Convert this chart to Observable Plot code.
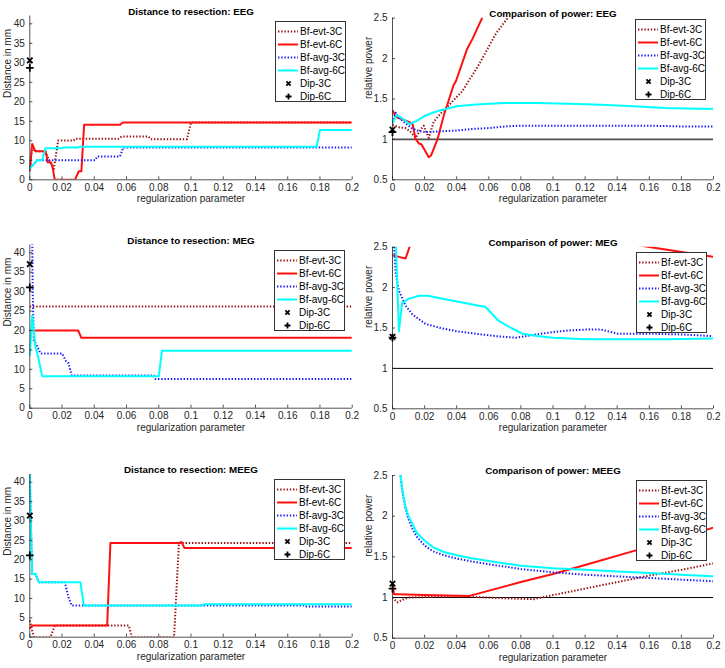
<!DOCTYPE html>
<html><head><meta charset="utf-8">
<script src="https://cdn.jsdelivr.net/npm/d3@7"></script>
<script src="https://cdn.jsdelivr.net/npm/@observablehq/plot@0.6"></script>
<style>
body{margin:0;background:#fff;}
#chart{position:relative;width:725px;height:668px;background:#fff;font-family:"Liberation Sans",Arial,Helvetica,sans-serif;overflow:hidden;}
.panel{position:absolute;}
.legend{position:absolute;background:#fff;border:1px solid #333;box-sizing:border-box;font-size:10px;color:#000;}
.legend .row{position:absolute;left:0;height:13px;width:100%;}
.legend .row svg{position:absolute;left:0;top:0;}
.legend .row span{position:absolute;left:24px;top:0;line-height:13px;white-space:nowrap;}
</style></head><body><div id="chart"></div>
<script>
// ---------- tick values and labels ----------
const X_TICKS = [0,0.02,0.04,0.06,0.08,0.1,0.12,0.14,0.16,0.18,0.2];
const X_TICK_LABELS = ["0","0.02","0.04","0.06","0.08","0.1","0.12","0.14","0.16","0.18","0.2"];
const DIST_TICKS = [0,5,10,15,20,25,30,35,40];
const DIST_TICK_LABELS = ["0","5","10","15","20","25","30","35","40"];
const POW_TICKS = [0.5,1,1.5,2,2.5];
const POW_TICK_LABELS = ["0.5","1","1.5","2","2.5"];
const DIST_DOMAIN = [0,42];
const POW_DOMAIN = [0.5,2.5];
const REF_POWER = [1];
const X_LABEL = "regularization parameter";
const SERIES = ["Bf-evt-3C","Bf-evt-6C","Bf-avg-3C","Bf-avg-6C"];
const DIPS = ["Dip-3C","Dip-6C"];
const TITLES = ["Distance to resection: EEG","Comparison of power: EEG","Distance to resection: MEG","Comparison of power: MEG","Distance to resection: MEEG","Comparison of power: MEEG"];
const Y_LABELS = ["Distance in mm","relative power"];

// ---------- EEG distance ----------
const eegDistEvt3C = [[0,2.5],[0.0015,8.8],[0.003,7.3],[0.0097,7.3],[0.012,5],[0.0149,2.8],[0.0176,10.1],[0.0273,10.1],[0.028,10.5],[0.055,10.5],[0.057,11.1],[0.0737,11.1],[0.075,10.4],[0.0975,10.4],[0.1,14.7],[0.2,14.7]];
const eegDistEvt6C = [[0,2.2],[0.0015,9.2],[0.0035,7.3],[0.0097,7.3],[0.0105,6],[0.011,4.5],[0.013,4.5],[0.014,3.5],[0.0155,0],[0.028,0],[0.0304,2.2],[0.032,2.2],[0.0337,14.1],[0.056,14.1],[0.0577,14.7],[0.2,14.7]];
const eegDistAvg3C = [[0,3],[0.0045,5],[0.0405,5],[0.042,6],[0.056,6],[0.058,8.3],[0.2,8.3]];
const eegDistAvg6C = [[0,2.8],[0.0045,5],[0.0077,5],[0.0097,8.1],[0.02,8.1],[0.021,8.3],[0.03,8.3],[0.031,8.5],[0.178,8.5],[0.18,12.8],[0.2,12.8]];
const eegDistDip3C = [[0,30.6]];
const eegDistDip6C = [[0,28.7]];

// ---------- EEG power ----------
const eegPowEvt3C = [[0,1.18],[0.004,1.15],[0.008,1.14],[0.011,1.1],[0.0145,1.02],[0.0175,1.12],[0.0195,1.17],[0.0226,1.02],[0.0257,1.22],[0.03,1.32],[0.034,1.4],[0.0436,1.6],[0.054,1.93],[0.0644,2.31],[0.0717,2.5],[0.076,2.6]];
const eegPowEvt6C = [[0,1.36],[0.002,1.28],[0.006,1.25],[0.011,1.21],[0.0125,1.19],[0.0143,1.01],[0.0164,0.95],[0.018,0.94],[0.0226,0.78],[0.024,0.8],[0.028,1.0],[0.032,1.3],[0.034,1.42],[0.038,1.67],[0.0395,1.72],[0.0465,2.12],[0.05,2.25],[0.056,2.51],[0.06,2.7]];
const eegPowAvg3C = [[0,1.21],[0.002,1.33],[0.004,1.27],[0.008,1.2],[0.012,1.14],[0.0153,1.11],[0.02,1.09],[0.03,1.1],[0.04,1.11],[0.05,1.13],[0.06,1.14],[0.07,1.16],[0.08,1.17],[0.1,1.17],[0.12,1.17],[0.14,1.17],[0.16,1.17],[0.18,1.16],[0.2,1.16]];
const eegPowAvg6C = [[0,1.2],[0.0025,1.3],[0.006,1.26],[0.0106,1.19],[0.015,1.23],[0.02,1.29],[0.025,1.33],[0.03,1.36],[0.034,1.38],[0.04,1.41],[0.05,1.43],[0.06,1.44],[0.07,1.45],[0.09,1.45],[0.11,1.44],[0.13,1.43],[0.15,1.41],[0.17,1.39],[0.19,1.38],[0.2,1.38]];
const eegPowDip3C = [[0,1.12]];
const eegPowDip6C = [[0,1.09]];

// ---------- MEG distance ----------
const megDistEvt3C = [[0,26.2],[0.2,26.2]];
const megDistEvt6C = [[0,20],[0.03,20],[0.032,18.1],[0.2,18.1]];
const megDistAvg3C = [[0,60],[0.0012,60],[0.0018,30],[0.0025,17.4],[0.004,16.5],[0.0066,14.1],[0.02,14.1],[0.0225,12.1],[0.024,11.6],[0.026,8.4],[0.077,8.4],[0.078,7.5],[0.2,7.5]];
const megDistAvg6C = [[0,13.5],[0.0015,23.8],[0.0035,15.7],[0.005,13.5],[0.0077,8.2],[0.08,8.2],[0.082,14.8],[0.2,14.8]];
const megDistDip3C = [[0,37.1]];
const megDistDip6C = [[0,31.1]];

// ---------- MEG power ----------
const megPowEvt3C = [[0,3.2],[0.1,3.5],[0.2,3.3]];
const megPowEvt6C = [[0,2.4],[0.004,2.38],[0.0081,2.36],[0.0106,2.5],[0.013,2.7],[0.08,3.2],[0.12,2.63],[0.161,2.5],[0.2,2.38]];
const megPowAvg3C = [[0,2.9],[0.002,2.17],[0.004,1.96],[0.008,1.78],[0.0123,1.67],[0.0206,1.55],[0.03,1.5],[0.04,1.46],[0.0476,1.44],[0.064,1.4],[0.077,1.38],[0.086,1.41],[0.1,1.45],[0.11,1.47],[0.12,1.48],[0.13,1.48],[0.14,1.43],[0.16,1.43],[0.18,1.42],[0.2,1.4]];
const megPowAvg6C = [[0,2.6],[0.002,2.6],[0.004,1.46],[0.006,1.81],[0.01,1.86],[0.0164,1.9],[0.022,1.9],[0.032,1.86],[0.045,1.81],[0.058,1.76],[0.066,1.59],[0.074,1.5],[0.081,1.43],[0.09,1.4],[0.1,1.38],[0.12,1.36],[0.14,1.36],[0.17,1.36],[0.2,1.37]];
const megPowDip3C = [[0,1.39]];
const megPowDip6C = [[0,1.38]];

// ---------- MEEG distance ----------
const meegDistEvt3C = [[0,4.3],[0.0025,0],[0.0128,0],[0.0155,3],[0.0614,3],[0.0634,0],[0.0895,0],[0.0925,24.3],[0.2,24.3]];
const meegDistEvt6C = [[0,2.2],[0.0015,3],[0.048,3],[0.05,24.3],[0.093,24.3],[0.094,24.6],[0.096,23],[0.2,23]];
const meegDistAvg3C = [[0,43],[0.0005,32],[0.0015,16.3],[0.0035,16.3],[0.0056,14.2],[0.0217,14.2],[0.024,10.3],[0.026,8.2],[0.17,8.2],[0.171,7.9],[0.2,7.9]];
const meegDistAvg6C = [[0,43],[0.0005,32],[0.0015,16.3],[0.0035,16.3],[0.0056,14.2],[0.0314,14.2],[0.0335,8.2],[0.107,8.2],[0.108,8.5],[0.2,8.5]];
const meegDistDip3C = [[0,31.4]];
const meegDistDip6C = [[0,21.1]];

// ---------- MEEG power ----------
const meegPowEvt3C = [[0,1.0],[0.003,0.94],[0.006,0.97],[0.01,1.0],[0.03,1.01],[0.048,1.01],[0.07,0.99],[0.088,0.98],[0.1,1.03],[0.12,1.11],[0.14,1.19],[0.16,1.27],[0.18,1.34],[0.2,1.42]];
const meegPowEvt6C = [[0,1.15],[0.001,1.04],[0.003,1.04],[0.02,1.03],[0.048,1.02],[0.08,1.19],[0.1,1.29],[0.12,1.4],[0.15,1.57],[0.18,1.74],[0.2,1.86]];
const meegPowAvg3C = [[0.004,2.7],[0.005,2.5],[0.006,2.32],[0.008,2.1],[0.01,1.96],[0.0125,1.84],[0.015,1.75],[0.02,1.64],[0.025,1.57],[0.032,1.52],[0.04,1.48],[0.05,1.44],[0.06,1.41],[0.08,1.35],[0.1,1.31],[0.12,1.28],[0.14,1.26],[0.16,1.24],[0.18,1.22],[0.2,1.2]];
const meegPowAvg6C = [[0.004,2.7],[0.005,2.5],[0.006,2.35],[0.008,2.12],[0.01,2.0],[0.0125,1.9],[0.015,1.8],[0.02,1.7],[0.025,1.62],[0.032,1.56],[0.04,1.52],[0.05,1.48],[0.06,1.45],[0.08,1.39],[0.1,1.36],[0.12,1.34],[0.14,1.32],[0.16,1.3],[0.18,1.28],[0.2,1.26]];
const meegPowDip3C = [[0,1.17]];
const meegPowDip6C = [[0,1.11]];

// ---------- styles & layout ----------
const SERIES_STYLE = [
  {stroke:"#9a1010", width:2, dash:"1.4 1.8"},
  {stroke:"#ff1010", width:2, dash:null},
  {stroke:"#1a1aff", width:2, dash:"1.4 1.8"},
  {stroke:"#00ffff", width:2, dash:null}
];
const DIP_SYMBOL = ["times","plus"];
const AXIS_COLOR = "#262626";
const FONT = "\"Liberation Sans\", Arial, Helvetica, sans-serif";

const panels = [
  {left:0, top:0, width:362, height:215, mt:15.5, mb:35.7, ml:29.3, mr:10.3, kind:"dist", title:TITLES[0],
   series:[eegDistEvt3C,eegDistEvt6C,eegDistAvg3C,eegDistAvg6C], dips:[eegDistDip3C,eegDistDip6C], legend:[275,20.5]},
  {left:362, top:0, width:363, height:215, mt:17.7, mb:35.7, ml:30, mr:12, kind:"pow", title:TITLES[1], refColor:"#505050", refWidth:1.8,
   series:[eegPowEvt3C,eegPowEvt6C,eegPowAvg3C,eegPowAvg6C], dips:[eegPowDip3C,eegPowDip6C], legend:[635,19]},
  {left:0, top:222, width:362, height:222, mt:22.5, mb:36.3, ml:29.3, mr:10.3, kind:"dist", title:TITLES[2],
   series:[megDistEvt3C,megDistEvt6C,megDistAvg3C,megDistAvg6C], dips:[megDistDip3C,megDistDip6C], legend:[274,249.5]},
  {left:362, top:222, width:363, height:222, mt:24.7, mb:35.7, ml:30, mr:12, kind:"pow", title:TITLES[3], refColor:"#000", refWidth:1,
   series:[megPowEvt3C,megPowEvt6C,megPowAvg3C,megPowAvg6C], dips:[megPowDip3C,megPowDip6C], legend:[636,251.5]},
  {left:0, top:446, width:362, height:222, mt:28, mb:31.3, ml:29.3, mr:10.3, kind:"dist", title:TITLES[4],
   series:[meegDistEvt3C,meegDistEvt6C,meegDistAvg3C,meegDistAvg6C], dips:[meegDistDip3C,meegDistDip6C], legend:[274,478.5]},
  {left:362, top:446, width:363, height:222, mt:29, mb:30.3, ml:30, mr:12, kind:"pow", title:TITLES[5], refColor:"#000", refWidth:1,
   series:[meegPowEvt3C,meegPowEvt6C,meegPowAvg3C,meegPowAvg6C], dips:[meegPowDip3C,meegPowDip6C], legend:[636,479.5]}
];

const chart = document.getElementById("chart");

function makePanel(p) {
  const isDist = p.kind === "dist";
  const yTicks = isDist ? DIST_TICKS : POW_TICKS;
  const yLabels = isDist ? DIST_TICK_LABELS : POW_TICK_LABELS;
  const yDomain = isDist ? DIST_DOMAIN : POW_DOMAIN;
  const plotH = p.height - p.mt - p.mb;
  const plotW = p.width - p.ml - p.mr;
  const marks = [];
  if (!isDist) marks.push(Plot.ruleY(REF_POWER, {stroke:p.refColor, strokeWidth:p.refWidth}));
  p.series.forEach((data, i) => {
    const s = SERIES_STYLE[i];
    marks.push(Plot.line(data, {x:d=>d[0], y:d=>d[1], stroke:s.stroke, strokeWidth:s.width,
      strokeDasharray:s.dash, strokeLinejoin:"round", strokeLinecap:"butt", clip:true}));
  });
  // axis lines and inward ticks
  marks.push(Plot.ruleX([0], {stroke:AXIS_COLOR, strokeWidth:0.8}));
  marks.push(Plot.ruleY([yDomain[0]], {stroke:AXIS_COLOR, strokeWidth:0.8}));
  marks.push(Plot.ruleX(X_TICKS, {insetTop:plotH-3, stroke:AXIS_COLOR, strokeWidth:0.8}));
  marks.push(Plot.ruleY(yTicks, {insetRight:plotW-3, stroke:AXIS_COLOR, strokeWidth:0.8}));
  marks.push(Plot.axisX({ticks:X_TICKS, tickSize:0, tickPadding:4, label:null,
    tickFormat:d=>X_TICK_LABELS[X_TICKS.indexOf(d)]}));
  marks.push(Plot.axisY({ticks:yTicks, tickSize:0, tickPadding:5, label:null,
    tickFormat:d=>yLabels[yTicks.indexOf(d)]}));
  p.dips.forEach((data, i) => {
    marks.push(Plot.dot(data, {x:d=>d[0], y:d=>d[1], symbol:DIP_SYMBOL[i], r:2.6, stroke:"#000", strokeWidth:1.8}));
  });
  marks.push(Plot.text([p.title], {text:d=>d, frameAnchor:"top", dy:-8, fontWeight:"bold", fontSize:9.8, fill:"#000"}));
  marks.push(Plot.text([X_LABEL], {text:d=>d, frameAnchor:"bottom", dy:22.5, fontSize:10, fill:AXIS_COLOR}));
  marks.push(Plot.text([isDist ? Y_LABELS[0] : Y_LABELS[1]], {text:d=>d, frameAnchor:"left", rotate:-90,
    dx: isDist ? -22.3 : -24, fontSize:10, fill:AXIS_COLOR}));

  const svg = Plot.plot({
    width:p.width, height:p.height,
    marginTop:p.mt, marginBottom:p.mb, marginLeft:p.ml, marginRight:p.mr,
    x:{domain:[0,0.2]},
    y:{domain:yDomain},
    style:{fontFamily:FONT, fontSize:"10px", color:AXIS_COLOR, background:"transparent", overflow:"visible"},
    marks
  });
  const div = document.createElement("div");
  div.className = "panel";
  div.style.left = p.left + "px";
  div.style.top = p.top + "px";
  div.appendChild(svg);
  chart.appendChild(div);
  makeLegend(p.legend);
}

function makeLegend(pos) {
  const div = document.createElement("div");
  div.className = "legend";
  div.style.left = pos[0] + "px";
  div.style.top = pos[1] + "px";
  div.style.width = "71px";
  div.style.height = "81px";
  const names = SERIES.concat(DIPS);
  names.forEach((name, i) => {
    const row = document.createElement("div");
    row.className = "row";
    row.style.top = (3 + 13 * i) + "px";
    let sample;
    if (i < SERIES.length) {
      const s = SERIES_STYLE[i];
      sample = `<line x1="2" y1="6.5" x2="22" y2="6.5" stroke="${s.stroke}" stroke-width="${s.width}"${s.dash ? ` stroke-dasharray="${s.dash}"` : ""}/>`;
    } else if (DIP_SYMBOL[i - SERIES.length] === "times") {
      sample = `<path d="M10.4,4.4L14.6,8.6M14.6,4.4L10.4,8.6" stroke="#000" stroke-width="1.8"/>`;
    } else {
      sample = `<path d="M12.5,3.5V9.5M9.5,6.5H15.5" stroke="#000" stroke-width="1.8"/>`;
    }
    row.innerHTML = `<svg width="24" height="13">${sample}</svg><span>${name}</span>`;
    div.appendChild(row);
  });
  chart.appendChild(div);
}

panels.forEach(makePanel);
</script></body></html>
